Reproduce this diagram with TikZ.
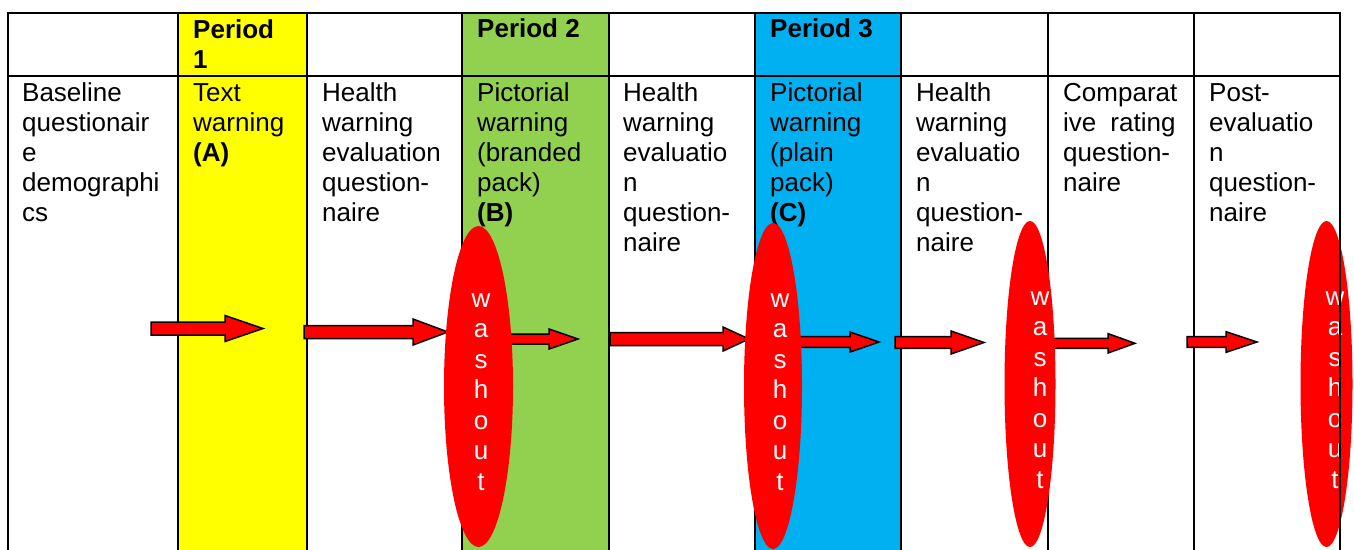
\documentclass[tikz,border=0pt]{standalone}
\usepackage{fontspec}
\setmainfont{Liberation Sans}
\usetikzlibrary{shapes.geometric}

\definecolor{periodA}{HTML}{FFFF00}
\definecolor{periodB}{HTML}{92D050}
\definecolor{periodC}{HTML}{00B0F0}
\definecolor{washred}{HTML}{FF0000}

\tikzset{
  grid line/.style={line width=2pt, black, line cap=rect},
  celltext/.style={anchor=base west, inner sep=0pt, font=\fontsize{26}{30}\selectfont},
  headtext/.style={anchor=base west, inner sep=0pt, font=\fontsize{26}{30}\selectfont\bfseries},
  washout/.style={ellipse, fill=washred, draw=none, inner sep=0pt},
  washtext/.style={anchor=base, inner sep=0pt, text=white, font=\fontsize{26}{30.5}\selectfont},
  blockarrow/.style={fill=washred, draw=black, line width=1.5pt, line join=miter}
}

% text of a table cell, first baseline at the node's base
\newcommand{\cellbox}[1]{\parbox[t]{145pt}{\raggedright #1}}
% letters stacked one per line
\newcommand{\stackbox}[1]{\parbox[t]{30pt}{\centering #1}}
% block arrow: tail x, head base x, tip x, centre y, shaft half width, head half width
\newcommand{\blockarr}[6]{%
  \filldraw[blockarrow] (#1,#4-#5) -- (#2,#4-#5) -- (#2,#4-#6) -- (#3,#4)
    -- (#2,#4+#6) -- (#2,#4+#5) -- (#1,#4+#5) -- cycle;}

\begin{document}
\begin{tikzpicture}[x=1pt,y=-1pt]
\useasboundingbox (0,0) rectangle (1354,549);
\clip (0,0) rectangle (1354,549);

% coloured period columns
\fill[periodA] (178,13) rectangle (307,560);
\fill[periodB] (462,13) rectangle (609,560);
\fill[periodC] (755,13) rectangle (901,560);

% table rules
\draw[grid line] (8,13) -- (1340,13);
\draw[grid line] (8,76) -- (1340,76);
\foreach \x in {8,178,307,462,609,755,901,1048,1194}
  \draw[grid line] (\x,13) -- (\x,560);

% header row
\node[headtext] (h1) at (193,38) {\cellbox{Period\\1}};
\node[headtext] (h2) at (477,37) {\cellbox{Period 2}};
\node[headtext] (h3) at (770,37) {\cellbox{Period 3}};

% body row
\node[celltext] (c1) at (22,101) {\cellbox{Baseline\\questionair\\e\\demographi\\cs}};
\node[celltext] (c2) at (193,101) {\cellbox{Text\\warning\\\textbf{(A)}}};
\node[celltext] (c3) at (322,101) {\cellbox{Health\\warning\\evaluation\\question-\\naire}};
\node[celltext] (c4) at (477,101) {\cellbox{Pictorial\\warning\\(branded\\pack)\\\textbf{(B)}}};
\node[celltext] (c5) at (623,101) {\cellbox{Health\\warning\\evaluatio\\n\\question-\\naire}};
\node[celltext] (c6) at (770,101) {\cellbox{Pictorial\\warning\\(plain\\pack)\\\textbf{(C)}}};
\node[celltext] (c7) at (916,101) {\cellbox{Health\\warning\\evaluatio\\n\\question-\\naire}};
\node[celltext] (c8) at (1063,101) {\cellbox{Comparat\\ive\hspace{14pt}rating\\question-\\naire}};
\node[celltext] (c9) at (1209,101) {\cellbox{Post-\\evaluatio\\n\\question-\\naire}};

% flow arrows
\blockarr{151}{225}{263}{328.5}{6.5}{13}
\blockarr{304}{413}{448}{332}{6.5}{13}
\blockarr{500}{549}{578}{339}{5}{10}
\blockarr{610}{723}{749}{339}{6.5}{12}
\blockarr{790}{850}{879}{342}{5.3}{10}
\blockarr{895}{951}{984}{342.5}{5.8}{11.5}
\blockarr{1040}{1108}{1135}{343.3}{5}{9.7}
\blockarr{1187}{1226}{1257}{342}{5.3}{10.3}

% washout ellipses
\node[washout, minimum width=69pt, minimum height=321pt] (w1) at (478.5,386.5) {};
\node[washout, minimum width=58pt, minimum height=326pt] (w2) at (773,386) {};
\node[washout, minimum width=51pt, minimum height=326pt] (w3) at (1030,384) {};
\node[washout, minimum width=52pt, minimum height=326pt] (w4) at (1326.5,384) {};

\node[washtext] (t1) at (481,307) {\stackbox{w\\a\\s\\h\\o\\u\\t}};
\node[washtext] (t2) at (780,307) {\stackbox{w\\a\\s\\h\\o\\u\\t}};
\node[washtext] (t3) at (1040,305) {\stackbox{w\\a\\s\\h\\o\\u\\t}};
\node[washtext] (t4) at (1335,305) {\stackbox{w\\a\\s\\h\\o\\u\\t}};

% right border of the table
\draw[grid line] (1340,13) -- (1340,560);
\end{tikzpicture}
\end{document}
